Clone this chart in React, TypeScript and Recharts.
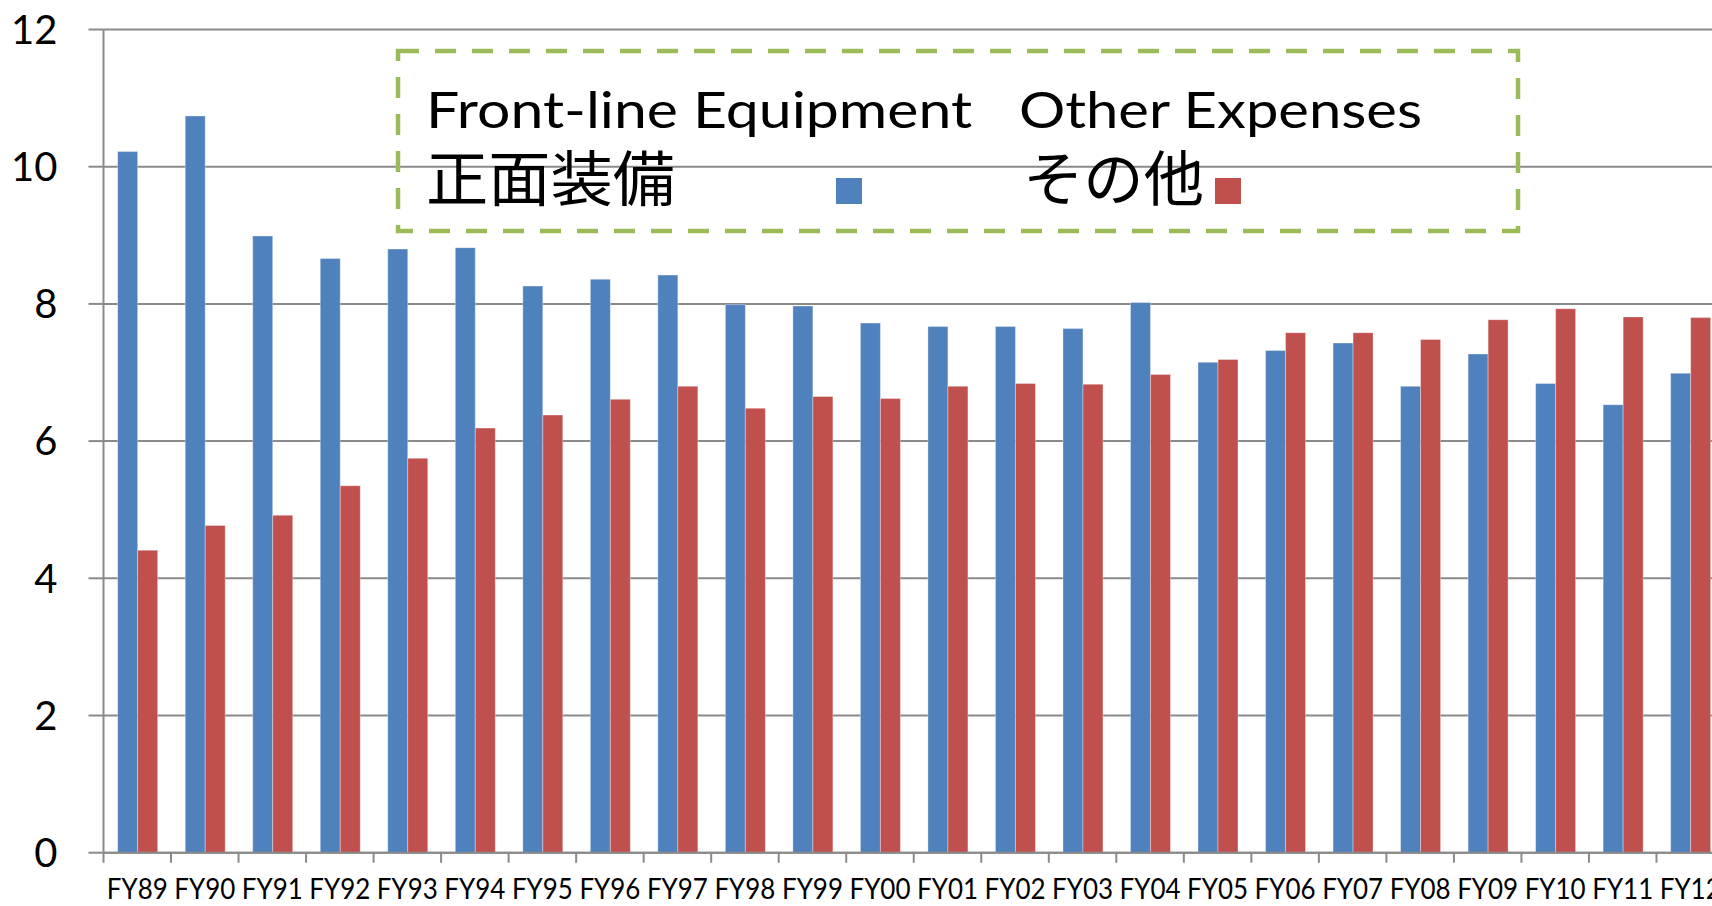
import React from 'react';
import { BarChart, Bar, XAxis, YAxis, CartesianGrid, Legend } from 'recharts';

const categories = ['FY89','FY90','FY91','FY92','FY93','FY94','FY95','FY96','FY97','FY98','FY99','FY00','FY01','FY02','FY03','FY04','FY05','FY06','FY07','FY08','FY09','FY10','FY11','FY12'];
const frontLine = [10.22,10.74,8.99,8.66,8.80,8.82,8.26,8.36,8.42,7.99,7.97,7.72,7.67,7.67,7.64,8.02,7.15,7.32,7.43,6.80,7.27,6.84,6.53,6.99];
const otherExp = [4.41,4.77,4.92,5.35,5.75,6.19,6.38,6.61,6.80,6.48,6.65,6.62,6.80,6.84,6.83,6.97,7.19,7.58,7.58,7.48,7.77,7.93,7.81,7.80];
const yTicks = [0, 2, 4, 6, 8, 10, 12];
const seriesNames = ['正面装備', 'その他'];
const seriesEnglish = ['Front-line Equipment', 'Other Expenses'];

const data = categories.map((c, i) => ({ name: c, front: frontLine[i], other: otherExp[i] }));

const BLUE = '#4F81BD';
const RED = '#C0504D';
const GRID = '#8a8a8a';
const BAND = 67.52;
const LATIN = 'Lato, "Noto Sans", sans-serif';
const CJK = '"Noto Sans CJK JP", sans-serif';

const XTick = (props: any) => {
  const { x, y, payload } = props;
  return (
    <g>
      <line x1={x - BAND / 2} x2={x - BAND / 2} y1={y} y2={y + 10} stroke={GRID} strokeWidth={2} />
      <text x={x} y={y + 46} textAnchor="middle" fontFamily={LATIN} fontSize={28} fill="#000" textLength={61} lengthAdjust="spacingAndGlyphs">
        {payload.value}
      </text>
    </g>
  );
};

const LegendBox = (props: any) => {
  const payload = props.payload || [];
  const find = (k: string, d: string) => {
    const p = payload.find((e: any) => e.dataKey === k);
    return (p && p.color) || d;
  };
  const c0 = find('front', BLUE);
  const c1 = find('other', RED);
  return (
    <svg width={1130} height={190} style={{ display: 'block', overflow: 'visible' }}>
      <rect x={2} y={2} width={1120} height={180} fill="none" stroke="#9BBB59" strokeWidth={4.5} strokeDasharray="21 16" />
      <text x={30} y={79} fontFamily={LATIN} fontSize={51} fill="#000" textLength={546} lengthAdjust="spacingAndGlyphs">{seriesEnglish[0]}</text>
      <text x={623} y={79} fontFamily={LATIN} fontSize={51} fill="#000" textLength={403} lengthAdjust="spacingAndGlyphs">{seriesEnglish[1]}</text>
      <text x={30} y={152} fontFamily={CJK} fontSize={60} fill="#000" textLength={249} lengthAdjust="spacingAndGlyphs">{seriesNames[0]}</text>
      <rect x={440} y={129} width={26} height={26} fill={c0} />
      <text x={627} y={152} fontFamily={CJK} fontSize={60} fill="#000" textLength={181} lengthAdjust="spacingAndGlyphs">{seriesNames[1]}</text>
      <rect x={819} y={129} width={26} height={26} fill={c1} />
    </svg>
  );
};

export default function App() {
  return (
    <div style={{ position: 'absolute', left: 0, top: 0, width: 1712, height: 906, overflow: 'hidden', background: '#fff' }}>
      <BarChart
        width={1724}
        height={906}
        data={data}
        margin={{ top: 29.5, right: 0, bottom: 0, left: 0 }}
        barCategoryGap="21%"
        barGap={0}
      >
        <CartesianGrid horizontal={true} vertical={false} stroke={GRID} strokeWidth={2} />
        <XAxis
          dataKey="name"
          height={53.3}
          interval={0}
          tickLine={false}
          tickSize={0}
          tickMargin={0}
          axisLine={{ stroke: GRID, strokeWidth: 2 }}
          tick={<XTick />}
        />
        <YAxis
          width={103.5}
          domain={[0, 12]}
          ticks={yTicks}
          interval={0}
          tickSize={15}
          tickMargin={31}
          axisLine={{ stroke: GRID, strokeWidth: 2 }}
          tickLine={{ stroke: GRID, strokeWidth: 2 }}
          tick={{ fontFamily: LATIN, fontSize: 40, fill: '#000' }}
        />
        <Legend
          layout="horizontal"
          verticalAlign="middle"
          align="center"
          content={<LegendBox />}
          wrapperStyle={{ left: 396, top: 49, width: 1130, height: 190 }}
        />
        <Bar dataKey="front" name={seriesNames[0]} fill={BLUE} stroke="rgba(255,255,255,0.35)" strokeWidth={1} isAnimationActive={false} />
        <Bar dataKey="other" name={seriesNames[1]} fill={RED} stroke="rgba(255,255,255,0.35)" strokeWidth={1} isAnimationActive={false} />
      </BarChart>
    </div>
  );
}
